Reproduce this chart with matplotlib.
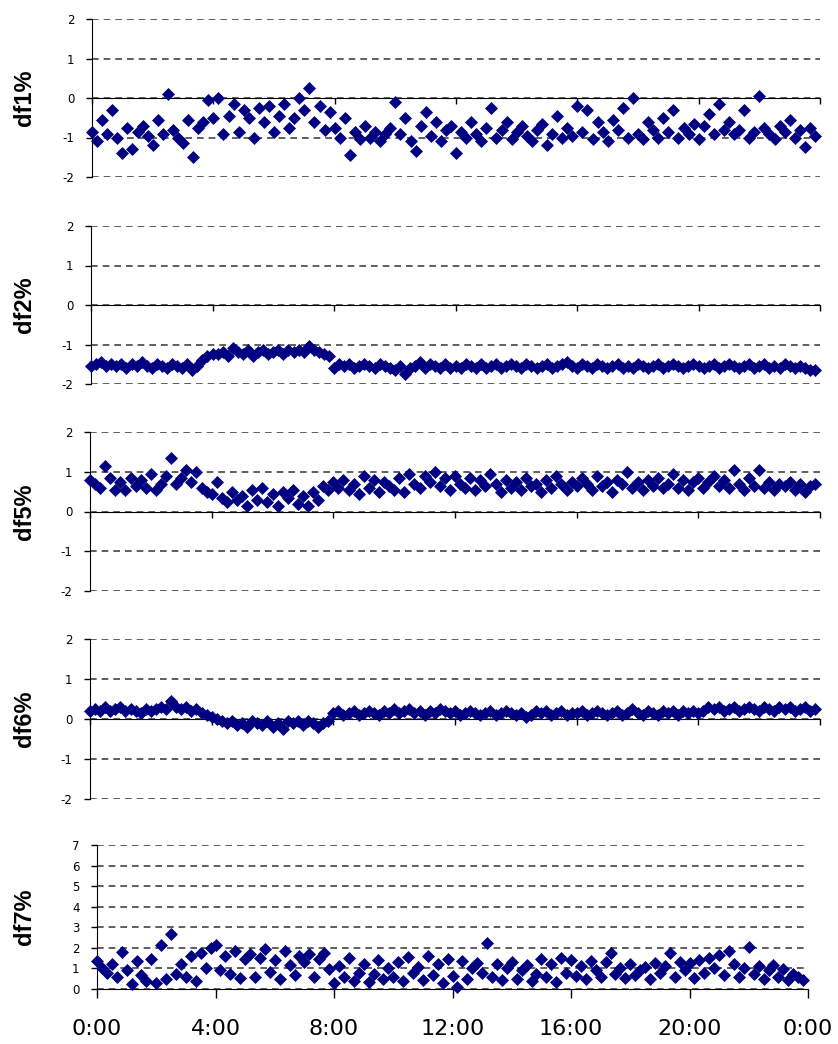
import numpy as np
import matplotlib
matplotlib.use("Agg")
import matplotlib.pyplot as plt

plt.rcParams["axes.unicode_minus"] = False

#%% datos (una muestra cada 10 min, 6 por hora)
hours = np.arange(144) / 6.0   # hora del dia

df1 = [-0.85, -1.1, -0.55, -0.9, -0.3, -1.0,
       -1.4, -0.75, -1.3, -0.85, -0.7, -0.95,
       -1.2, -0.55, -0.9, 0.1, -0.8, -1.0,
       -1.15, -0.55, -1.5, -0.75, -0.6, -0.05,
       -0.5, 0.0, -0.9, -0.45, -0.15, -0.85,
       -0.3, -0.5, -1.0, -0.25, -0.6, -0.2,
       -0.85, -0.45, -0.15, -0.75, -0.5, 0.0,
       -0.3, 0.25, -0.6, -0.2, -0.8, -0.35,
       -0.75, -1.0, -0.5, -1.45, -0.85, -1.05,
       -0.7, -1.0, -0.85, -1.1, -0.9, -0.75,
       -0.1, -0.9, -0.5, -1.1, -1.35, -0.7,
       -0.35, -0.95, -0.6, -1.1, -0.8, -0.7,
       -1.4, -0.85, -1.0, -0.6, -0.9, -1.1,
       -0.75, -0.25, -1.0, -0.8, -0.6, -1.05,
       -0.85, -0.7, -0.95, -1.1, -0.8, -0.65,
       -1.2, -0.9, -0.45, -1.0, -0.75, -0.95,
       -0.2, -0.85, -0.3, -1.05, -0.6, -0.85,
       -1.1, -0.55, -0.8, -0.25, -1.0, 0.0,
       -0.9, -1.05, -0.6, -0.8, -1.0, -0.5,
       -0.85, -0.3, -1.0, -0.75, -0.9, -0.65,
       -1.05, -0.7, -0.4, -0.9, -0.15, -0.8,
       -0.6, -0.9, -0.8, -0.3, -1.0, -0.85,
       0.05, -0.75, -0.9, -1.05, -0.7, -0.85,
       -0.55, -1.0, -0.8, -1.25, -0.75, -0.95]

df2 = [-1.55, -1.5, -1.45, -1.55, -1.5, -1.55,
       -1.5, -1.6, -1.5, -1.55, -1.45, -1.55,
       -1.6, -1.5, -1.55, -1.6, -1.5, -1.55,
       -1.6, -1.5, -1.65, -1.55, -1.4, -1.3,
       -1.25, -1.25, -1.2, -1.3, -1.1, -1.2,
       -1.25, -1.15, -1.3, -1.2, -1.15, -1.25,
       -1.2, -1.15, -1.25, -1.15, -1.2, -1.15,
       -1.2, -1.05, -1.15, -1.2, -1.25, -1.3,
       -1.6, -1.5, -1.55, -1.5, -1.6, -1.55,
       -1.5, -1.55, -1.6, -1.5, -1.55, -1.6,
       -1.65, -1.55, -1.75, -1.6, -1.55, -1.45,
       -1.6, -1.5, -1.55, -1.6, -1.5, -1.6,
       -1.55, -1.6, -1.5, -1.55, -1.6, -1.5,
       -1.6, -1.55, -1.5, -1.6, -1.55, -1.5,
       -1.55, -1.6, -1.5, -1.55, -1.6, -1.55,
       -1.5, -1.6, -1.55, -1.5, -1.45, -1.55,
       -1.6, -1.5, -1.55, -1.6, -1.5, -1.55,
       -1.6, -1.55, -1.5, -1.6, -1.55, -1.6,
       -1.5, -1.55, -1.6, -1.55, -1.5, -1.6,
       -1.55, -1.5, -1.55, -1.6, -1.55, -1.5,
       -1.55, -1.6, -1.55, -1.5, -1.6, -1.55,
       -1.5, -1.55, -1.6, -1.55, -1.5, -1.6,
       -1.55, -1.5, -1.6, -1.55, -1.6, -1.5,
       -1.55, -1.6, -1.55, -1.6, -1.65, -1.65]

df5 = [0.8, 0.7, 0.6, 1.15, 0.85, 0.55,
       0.75, 0.55, 0.85, 0.65, 0.8, 0.6,
       0.95, 0.55, 0.7, 0.9, 1.35, 0.7,
       0.85, 1.05, 0.75, 1.0, 0.6, 0.5,
       0.45, 0.75, 0.35, 0.25, 0.5, 0.3,
       0.4, 0.15, 0.55, 0.3, 0.6, 0.25,
       0.45, 0.15, 0.5, 0.35, 0.55, 0.2,
       0.4, 0.15, 0.5, 0.3, 0.65, 0.55,
       0.75, 0.6, 0.8, 0.55, 0.7, 0.45,
       0.9, 0.6, 0.8, 0.5, 0.75, 0.65,
       0.55, 0.85, 0.5, 0.95, 0.7, 0.6,
       0.9, 0.75, 1.0, 0.65, 0.85, 0.55,
       0.9, 0.7, 0.6, 0.85, 0.55, 0.8,
       0.65, 0.95, 0.7, 0.5, 0.8, 0.6,
       0.75, 0.55, 0.85, 0.65, 0.7, 0.5,
       0.8, 0.6, 0.9, 0.7, 0.55, 0.75,
       0.65, 0.85, 0.7, 0.55, 0.9, 0.65,
       0.75, 0.5, 0.8, 0.7, 1.0, 0.6,
       0.75, 0.55, 0.8, 0.65, 0.85, 0.6,
       0.7, 0.95, 0.6, 0.8, 0.55, 0.75,
       0.85, 0.6, 0.75, 0.9, 0.65, 0.8,
       0.6, 1.05, 0.7, 0.55, 0.85, 0.65,
       1.05, 0.6, 0.75, 0.55, 0.7, 0.65,
       0.75, 0.55, 0.7, 0.5, 0.65, 0.7]

df6 = [0.2, 0.25, 0.2, 0.3, 0.2, 0.25,
       0.3, 0.2, 0.25, 0.2, 0.15, 0.25,
       0.2, 0.25, 0.3, 0.25, 0.45, 0.3,
       0.25, 0.3, 0.2, 0.25, 0.15, 0.1,
       0.05, 0.0, -0.05, -0.1, -0.05, -0.15,
       -0.1, -0.2, -0.05, -0.1, -0.15, -0.05,
       -0.2, -0.1, -0.25, -0.05, -0.1, -0.05,
       -0.15, -0.05, -0.1, -0.2, -0.1, -0.05,
       0.15, 0.2, 0.1, 0.15, 0.2, 0.1,
       0.15, 0.2, 0.15, 0.1, 0.2, 0.15,
       0.25, 0.15, 0.2, 0.25, 0.15, 0.2,
       0.1, 0.2, 0.15, 0.25, 0.2, 0.15,
       0.2, 0.1, 0.15, 0.2, 0.15, 0.1,
       0.15, 0.2, 0.1, 0.15, 0.2, 0.15,
       0.1, 0.15, 0.05, 0.1, 0.2, 0.15,
       0.2, 0.1, 0.15, 0.2, 0.1, 0.15,
       0.15, 0.2, 0.1, 0.15, 0.2, 0.15,
       0.1, 0.15, 0.2, 0.1, 0.15, 0.25,
       0.15, 0.1, 0.2, 0.15, 0.1, 0.2,
       0.15, 0.2, 0.1, 0.2, 0.15, 0.2,
       0.15, 0.2, 0.3, 0.25, 0.3, 0.2,
       0.25, 0.3, 0.2, 0.25, 0.3, 0.25,
       0.2, 0.3, 0.25, 0.2, 0.3, 0.25,
       0.3, 0.2, 0.25, 0.3, 0.2, 0.25]

df7 = [1.35, 1.0, 0.8, 1.2, 0.6, 1.8,
       0.9, 0.25, 1.35, 0.7, 0.4, 1.45,
       0.3, 2.15, 0.5, 2.65, 0.75, 1.2,
       0.6, 1.6, 0.4, 1.75, 1.0, 2.0,
       2.15, 0.9, 1.6, 0.75, 1.85, 0.55,
       1.45, 1.7, 0.6, 1.5, 1.95, 0.85,
       1.4, 0.5, 1.85, 1.15, 0.7, 1.6,
       1.3, 1.7, 0.6, 1.45, 1.75, 0.95,
       0.3, 1.1, 0.6, 1.5, 0.4, 0.8,
       1.2, 0.35, 0.75, 1.4, 0.5, 1.0,
       0.6, 1.3, 0.4, 1.55, 0.8, 1.05,
       0.45, 1.6, 0.7, 1.2, 0.3, 1.45,
       0.65, 0.1, 1.35, 0.5, 1.0, 1.25,
       0.8, 2.25, 0.6, 1.2, 0.45, 1.0,
       1.3, 0.5, 0.9, 1.15, 0.4, 0.75,
       1.45, 0.6, 1.2, 0.35, 1.5, 0.8,
       1.4, 0.65, 1.1, 0.5, 1.35, 0.9,
       0.6, 1.3, 1.75, 0.75, 1.0, 0.55,
       1.2, 0.7, 0.9, 1.05, 0.5, 1.25,
       0.8, 1.1, 1.75, 0.6, 1.3, 0.9,
       1.25, 0.55, 1.4, 0.8, 1.5, 1.0,
       1.65, 0.7, 1.85, 1.2, 0.6, 1.0,
       2.05, 0.75, 1.1, 0.5, 0.9, 1.15,
       0.6, 0.95, 0.45, 0.75, 0.6, 0.45]

series = [df1, df2, df5, df6, df7]
ylabels = ["df1%", "df2%", "df5%", "df6%", "df7%"]
ylims = [(-2, 2), (-2, 2), (-2, 2), (-2, 2), (0, 7)]
xtick_hours = [0, 4, 8, 12, 16, 20, 24]
xtick_labels = ["0:00", "4:00", "8:00", "12:00", "16:00", "20:00", "0:00"]

#%% figura
W, H = 838, 1044
fig = plt.figure(figsize=(W / 100, H / 100), dpi=100)

# (izq, der, arriba, abajo) en pixeles
cajas = [(92, 820, 19, 177), (91, 820, 226, 384), (90, 820, 432, 591),
         (90, 820, 639, 799), (97, 808, 845, 989)]

navy = "#000080"
for i in range(5):
    l, r, t, b = cajas[i]
    ax = fig.add_axes([l / W, 1 - b / H, (r - l) / W, (b - t) / H])
    y0, y1 = ylims[i]

    ax.plot(hours, series[i], "D", color=navy, ms=6.5, mec=navy, mew=0.5,
            zorder=4, clip_on=False)
    ax.set_ylim(y0, y1)
    ax.set_xlim(0, 24)
    ax.set_yticks(range(y0, y1 + 1))
    ax.set_xticks(xtick_hours)

    for s in ["top", "right"]:
        ax.spines[s].set_visible(False)
    ax.spines["bottom"].set_position(("data", 0))

    ax.tick_params(axis="y", direction="out", length=4.5, width=1.0, pad=8,
                   labelsize=8.5, labelfontfamily="DejaVu Sans")
    if i < 4:
        ax.tick_params(axis="x", direction="out", length=4, width=1.0,
                       labelbottom=False)
    else:
        ax.tick_params(axis="x", direction="out", length=6.5, width=1.0,
                       pad=15, labelsize=16, labelfontfamily="DejaVu Sans")
        ax.set_xticklabels(xtick_labels)

    # grilla punteada, al final para que nada la pise
    ax.grid(True, axis="y", ls="--", dashes=(4, 3), color="#444444", lw=1.2)

    fig.text(24 / W, 1 - (t + b) / 2 / H, ylabels[i], rotation=90,
             ha="center", va="center", fontsize=17, fontweight="bold",
             family="Liberation Sans")

plt.savefig("out.png", dpi=100)
